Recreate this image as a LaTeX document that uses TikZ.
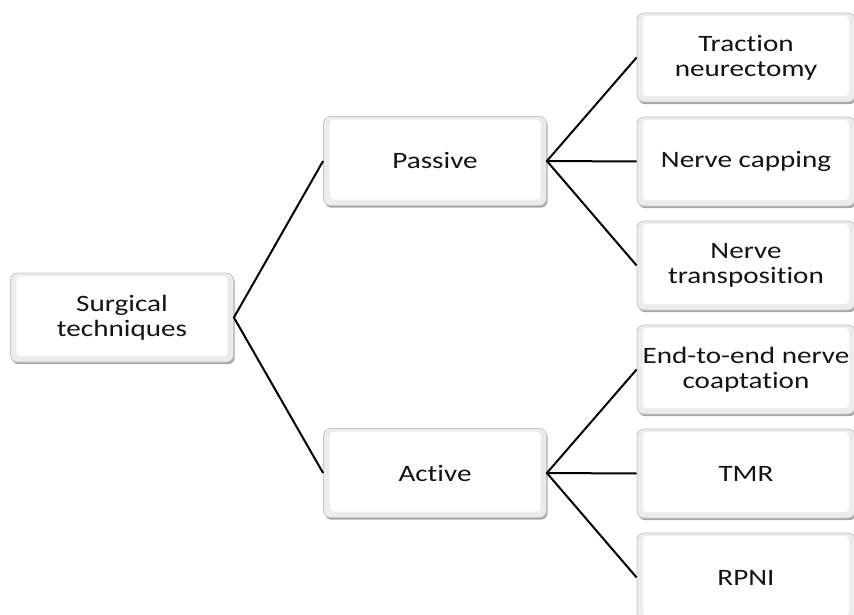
\documentclass[tikz,border=0pt]{standalone}
\usepackage{fontspec}
\newfontfamily\boxfont{Carlito}[FakeStretch=1.24, Ligatures=NoCommon, RawFeature=-liga]
\usetikzlibrary{shadows}
\tikzset{
  box/.style={rounded corners=7pt, draw=gray!45, line width=0.8pt, fill=gray!16,
    minimum height=89pt, inner sep=0pt, align=center,
    font=\boxfont\fontsize{23.5}{25}\selectfont, text=black!92,
    drop shadow={shadow xshift=1.2pt, shadow yshift=-2.2pt, fill=black, opacity=0.35},
    path picture={\fill[white, rounded corners=4pt]
      ([shift={(6pt,6pt)}]path picture bounding box.south west) rectangle
      ([shift={(-6pt,-3pt)}]path picture bounding box.north east);}},
  midbox/.style={box, minimum width=223pt},
  leafbox/.style={box, minimum width=218pt},
  conn/.style={draw=black, line width=2pt},
}
\begin{document}
\begin{tikzpicture}[x=1pt,y=-1pt]
\clip (0,0) rectangle (854,615);
\fill[white] (0,0) rectangle (854,615);
\node[midbox] (st) at (122,317.5) {Surgical\\techniques};
\node[midbox] (pa) at (435,161) {Passive};
\node[midbox] (ac) at (435,473) {Active};
\node[leafbox] (l1) at (746,57.5) {Traction\\neurectomy};
\node[leafbox] (l2) at (746,161.5) {Nerve capping};
\node[leafbox] (l3) at (746,265.5) {Nerve\\transposition};
\node[leafbox] (l4) at (746,369.5) {End-to-end nerve\\coaptation};
\node[leafbox] (l5) at (746,473.5) {TMR};
\node[leafbox] (l6) at (746,577.5) {RPNI};
\draw[conn] (pa.west) -- (st.east) -- (ac.west);
\draw[conn] (l1.west) -- (pa.east) -- (l3.west);
\draw[conn] (pa.east) -- (l2.west);
\draw[conn] (l4.west) -- (ac.east) -- (l6.west);
\draw[conn] (ac.east) -- (l5.west);
\end{tikzpicture}
\end{document}
